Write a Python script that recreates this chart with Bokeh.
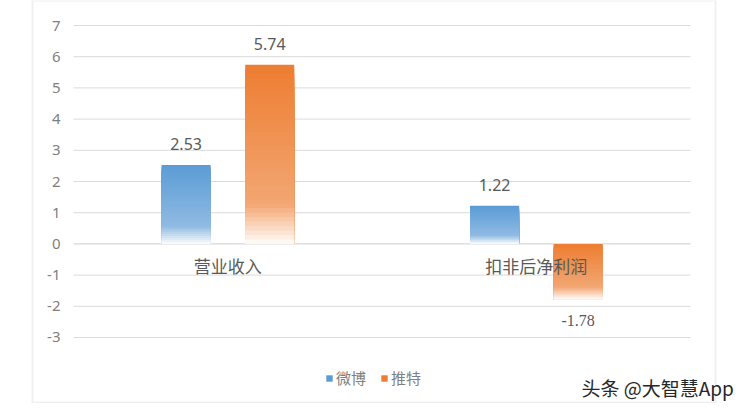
import numpy as np
from bokeh.plotting import figure
from bokeh.models import (ColumnDataSource, Range1d, Legend, LegendItem, Label,
                          BoxAnnotation)
from bokeh.core.properties import value
from bokeh.embed import file_html
from bokeh.resources import INLINE

# ---- data ----
categories = ["营业收入", "扣非后净利润"]
series = ["微博", "推特"]
weibo = [2.53, 1.22]
twitter = [5.74, -1.78]
y_ticks = [-3, -2, -1, 0, 1, 2, 3, 4, 5, 6, 7]
y_tick_labels = ["-3", "-2", "-1", "0", "1", "2", "3", "4", "5", "6", "7"]
colors = ["#5b9bd5", "#ed7d31"]
watermark = "头条 @大智慧App"

SANS = "Noto Sans"
CJK = "Noto Sans CJK SC"

W, H = 742, 403
cat_x = np.arange(len(categories), dtype=float)

p = figure(width=W, height=H,
           x_range=Range1d(-0.7366, 1.6686),
           y_range=Range1d(-5.1154, 7.8013),
           x_axis_location=None, y_axis_location=None,
           min_border_left=0, min_border_right=0,
           min_border_top=0, min_border_bottom=0,
           toolbar_location=None, output_backend="svg")
p.outline_line_color = None
p.background_fill_color = "white"
p.border_fill_color = "white"
p.grid.visible = False

# horizontal gridlines spanning the category bands
x_lo = cat_x[0] - 0.5
x_hi = cat_x[-1] + 0.5
grid_cols = ["#cccccc" if t == 0 else "#dadada" for t in y_ticks]
p.segment(x0=[x_lo] * len(y_ticks), x1=[x_hi] * len(y_ticks),
          y0=y_ticks, y1=y_ticks, line_color=grid_cols, line_width=1)

# y tick labels
p.text(x=[x_lo] * len(y_ticks), y=y_ticks, text=y_tick_labels, x_offset=-13,
       text_font=value(SANS), text_font_size="15px", text_color="#7f7f7f",
       text_align="right", text_baseline="middle")


def hex_mix(c, m):
    r, g, b = int(c[1:3], 16), int(c[3:5], 16), int(c[5:7], 16)
    r = round(r + (255 - r) * m)
    g = round(g + (255 - g) * m)
    b = round(b + (255 - b) * m)
    return "#%02x%02x%02x" % (r, g, b)


def white_frac(t):
    if t < 0.78:
        return 0.32 * t / 0.78
    return min(0.98, 0.32 + 0.66 * (t - 0.78) / 0.22)


N = 40
offsets = [-0.135, 0.136]
bar_w = 0.159
bar_renderers = []
for si, vals in enumerate([weibo, twitter]):
    xs, tops, bots, cols = [], [], [], []
    for ci, v in enumerate(vals):
        hi, lo = (v, 0.0) if v >= 0 else (0.0, v)
        for k in range(N):
            t0 = k / N
            tm = (k + 0.5) / N
            xs.append(cat_x[ci] + offsets[si])
            tops.append(hi - (hi - lo) * t0)
            bots.append(lo)
            cols.append(hex_mix(colors[si], white_frac(tm)))
    src = ColumnDataSource(dict(x=xs, top=tops, bottom=bots, c=cols))
    r = p.vbar(x="x", top="top", bottom="bottom", width=bar_w,
               fill_color="c", line_color=None, source=src)
    bar_renderers.append(r)

    # value labels
    lab = ColumnDataSource(dict(
        x=cat_x + offsets[si], y=vals, t=["%.2f" % v for v in vals],
        off=[-21 if v >= 0 else 21 for v in vals],
        font=[SANS if v >= 0 else "Liberation Serif" for v in vals]))
    p.text(x="x", y="y", text="t", y_offset="off", text_font="font",
           text_font_size="16px", text_color="#595959", text_align="center",
           text_baseline="middle", source=lab)

# category labels at the zero line
p.text(x=cat_x, y=[0] * len(categories), text=categories, y_offset=22,
       text_font=value(CJK), text_font_size="17px", text_color="#595959",
       text_align="center", text_baseline="middle")

legend = Legend(items=[LegendItem(label=series[i], renderers=[bar_renderers[i]], index=0)
                       for i in range(2)],
                orientation="horizontal", location=(325, 15),
                background_fill_alpha=0, border_line_color=None,
                glyph_width=8, glyph_height=8, label_standoff=3, spacing=14,
                padding=0, margin=0,
                label_text_font=CJK, label_text_font_size="15px",
                label_text_color="#7f7f7f")
p.add_layout(legend)

box = BoxAnnotation(left=32, right=715, top=0, bottom=402,
                    left_units="canvas", right_units="canvas",
                    top_units="canvas", bottom_units="canvas",
                    fill_alpha=0, line_color="#cdcdcd", line_width=2)
p.add_layout(box)

p.add_layout(Label(x=581, y=16, x_units="screen", y_units="screen", text=watermark,
                   text_font=CJK, text_font_size="19px", text_color="#262626",
                   text_baseline="middle"))

open("out.html", "w").write(file_html(p, INLINE))
